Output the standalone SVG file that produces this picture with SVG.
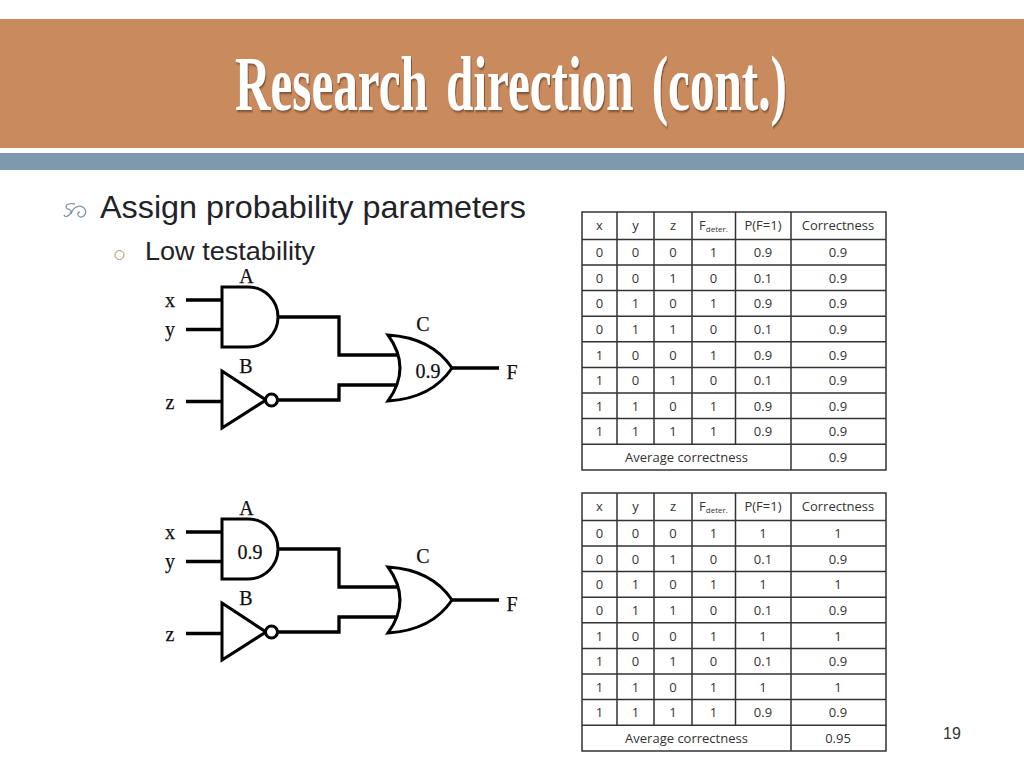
<svg xmlns="http://www.w3.org/2000/svg" xmlns:xlink="http://www.w3.org/1999/xlink" width="1024" height="768" viewBox="0 0 1024 768">
<style>
.g{fill:#fff;stroke:#000;stroke-width:3;stroke-linejoin:miter}
.w{fill:none;stroke:#000;stroke-width:3.300}
.l{font-family:"Liberation Serif",serif;font-size:20px;fill:#111;stroke:#111;stroke-width:.25;text-anchor:middle}
.c{font-family:"Open Sans",sans-serif;font-size:13px;fill:#333;text-anchor:middle}
.s{font-size:8px}
.b{font-family:"Liberation Sans",sans-serif;fill:#1f2328}
.r{fill:none;stroke:#333;stroke-width:1.500}
</style>
<defs>
<filter id="sh" x="-10%" y="-40%" width="120%" height="180%"><feDropShadow dx="1.500" dy="2" stdDeviation="1.200" flood-color="#5a3a20" flood-opacity="0.7"/></filter>
<path id="and" class="g" d="M222 287H248A30 30 0 0 1 248 347H222Z"/>
<path id="or" class="g" d="M388 335C420 337 440 350 452 368C440 386 420 399 388 401Q412 368 388 335Z"/>
<g id="not"><path class="g" d="M222 371V428L266 400Z"/><circle class="g" cx="271.500" cy="400" r="6"/></g>
<path id="grid" class="r" d="M582 212H886V470H582ZM582 239.500H886M582 265H886M582 290.600H886M582 316.200H886M582 341.800H886M582 367.400H886M582 393H886M582 418.600H886M582 444.200H886M617 212V444.200M654 212V444.200M692 212V444.200M735.500 212V444.200M791 212V470"/>
</defs>
<rect width="1024" height="768" fill="#fff"/>
<g id="header">
<rect x="0" y="19" width="1024" height="129" fill="#c98a5e"/>
<rect x="0" y="153" width="1024" height="17" fill="#7e98ad"/>
<text transform="translate(235 110) scale(.63 1)" x="0" y="0" word-spacing="9.500" filter="url(#sh)" font-family="Liberation Serif, serif" font-weight="bold" font-size="78" fill="#fff">Research direction (cont.)</text>
</g>
<g id="bullets">
<path d="M75 204C70 203 66 204 66 207C66 210 72 209 71 212C70 216 65 218 64 215M71 214C73 207 80 204 84 208C88 212 84 218 80 217C77 216 77 212 80 212" fill="none" stroke="#7e98ad" stroke-width="1.300"/>
<text class="b" x="100" y="218" font-size="32" textLength="426" lengthAdjust="spacingAndGlyphs">Assign probability parameters</text>
<circle cx="119.500" cy="255" r="4.500" fill="none" stroke="#c98a5e" stroke-width="1"/>
<text class="b" x="145" y="260" font-size="25.500" textLength="170" lengthAdjust="spacingAndGlyphs">Low testability</text>
</g>
<g id="connectors">
<path class="w" d="M186 300H222M186 329.500H222M278 317H339V355H400M186 401.500H222M278 400H339V385H398M452 368H499"/>
<path class="w" transform="translate(0 232)" d="M186 300H222M186 329.500H222M278 317H339V355H400M186 401.500H222M278 400H339V385H398M452 368H499"/>
</g>
<g id="circuit1-inputs"><text class="l" x="170" y="307">x</text><text class="l" x="170" y="336">y</text><text class="l" x="170" y="409">z</text></g>
<g id="circuit1-A"><use xlink:href="#and"/><text class="l" x="246.500" y="283">A</text></g>
<g id="circuit1-B"><use xlink:href="#not"/><text class="l" x="246" y="373">B</text></g>
<g id="circuit1-C"><use xlink:href="#or"/><text class="l" x="423" y="331">C</text><text class="l" x="428" y="378">0.9</text></g>
<g id="circuit1-F"><text class="l" x="512" y="379">F</text></g>
<g id="circuit2-inputs"><text class="l" x="170" y="539">x</text><text class="l" x="170" y="568">y</text><text class="l" x="170" y="641">z</text></g>
<g id="circuit2-A"><use xlink:href="#and" y="232"/><text class="l" x="246.500" y="515">A</text><text class="l" x="250" y="559">0.9</text></g>
<g id="circuit2-B"><use xlink:href="#not" y="232"/><text class="l" x="246" y="605">B</text></g>
<g id="circuit2-C"><use xlink:href="#or" y="232"/><text class="l" x="423" y="563">C</text></g>
<g id="circuit2-F"><text class="l" x="512" y="611">F</text></g>
<g id="table1">
<use xlink:href="#grid"/>
<text class="c" x="599.500" y="230">x</text><text class="c" x="635.500" y="230">y</text><text class="c" x="673" y="230">z</text><text class="c" x="713.500" y="230">F<tspan class="s" dy="2">deter.</tspan></text><text class="c" x="763" y="230">P(F=1)</text><text class="c" x="838" y="230">Correctness</text>
<text class="c" x="599.500" y="257">0</text><text class="c" x="635.500" y="257">0</text><text class="c" x="673" y="257">0</text><text class="c" x="713.500" y="257">1</text><text class="c" x="763" y="257">0.9</text><text class="c" x="838" y="257">0.9</text>
<text class="c" x="599.500" y="282.500">0</text><text class="c" x="635.500" y="282.500">0</text><text class="c" x="673" y="282.500">1</text><text class="c" x="713.500" y="282.500">0</text><text class="c" x="763" y="282.500">0.1</text><text class="c" x="838" y="282.500">0.9</text>
<text class="c" x="599.500" y="308">0</text><text class="c" x="635.500" y="308">1</text><text class="c" x="673" y="308">0</text><text class="c" x="713.500" y="308">1</text><text class="c" x="763" y="308">0.9</text><text class="c" x="838" y="308">0.9</text>
<text class="c" x="599.500" y="333.500">0</text><text class="c" x="635.500" y="333.500">1</text><text class="c" x="673" y="333.500">1</text><text class="c" x="713.500" y="333.500">0</text><text class="c" x="763" y="333.500">0.1</text><text class="c" x="838" y="333.500">0.9</text>
<text class="c" x="599.500" y="359.500">1</text><text class="c" x="635.500" y="359.500">0</text><text class="c" x="673" y="359.500">0</text><text class="c" x="713.500" y="359.500">1</text><text class="c" x="763" y="359.500">0.9</text><text class="c" x="838" y="359.500">0.9</text>
<text class="c" x="599.500" y="385">1</text><text class="c" x="635.500" y="385">0</text><text class="c" x="673" y="385">1</text><text class="c" x="713.500" y="385">0</text><text class="c" x="763" y="385">0.1</text><text class="c" x="838" y="385">0.9</text>
<text class="c" x="599.500" y="410.500">1</text><text class="c" x="635.500" y="410.500">1</text><text class="c" x="673" y="410.500">0</text><text class="c" x="713.500" y="410.500">1</text><text class="c" x="763" y="410.500">0.9</text><text class="c" x="838" y="410.500">0.9</text>
<text class="c" x="599.500" y="436">1</text><text class="c" x="635.500" y="436">1</text><text class="c" x="673" y="436">1</text><text class="c" x="713.500" y="436">1</text><text class="c" x="763" y="436">0.9</text><text class="c" x="838" y="436">0.9</text>
<text class="c" x="686.500" y="462">Average correctness</text><text class="c" x="838" y="462">0.9</text>
</g>
<g id="table2">
<use xlink:href="#grid" y="281"/>
<text class="c" x="599.500" y="511">x</text><text class="c" x="635.500" y="511">y</text><text class="c" x="673" y="511">z</text><text class="c" x="713.500" y="511">F<tspan class="s" dy="2">deter.</tspan></text><text class="c" x="763" y="511">P(F=1)</text><text class="c" x="838" y="511">Correctness</text>
<text class="c" x="599.500" y="538">0</text><text class="c" x="635.500" y="538">0</text><text class="c" x="673" y="538">0</text><text class="c" x="713.500" y="538">1</text><text class="c" x="763" y="538">1</text><text class="c" x="838" y="538">1</text>
<text class="c" x="599.500" y="563.500">0</text><text class="c" x="635.500" y="563.500">0</text><text class="c" x="673" y="563.500">1</text><text class="c" x="713.500" y="563.500">0</text><text class="c" x="763" y="563.500">0.1</text><text class="c" x="838" y="563.500">0.9</text>
<text class="c" x="599.500" y="589">0</text><text class="c" x="635.500" y="589">1</text><text class="c" x="673" y="589">0</text><text class="c" x="713.500" y="589">1</text><text class="c" x="763" y="589">1</text><text class="c" x="838" y="589">1</text>
<text class="c" x="599.500" y="614.500">0</text><text class="c" x="635.500" y="614.500">1</text><text class="c" x="673" y="614.500">1</text><text class="c" x="713.500" y="614.500">0</text><text class="c" x="763" y="614.500">0.1</text><text class="c" x="838" y="614.500">0.9</text>
<text class="c" x="599.500" y="640.500">1</text><text class="c" x="635.500" y="640.500">0</text><text class="c" x="673" y="640.500">0</text><text class="c" x="713.500" y="640.500">1</text><text class="c" x="763" y="640.500">1</text><text class="c" x="838" y="640.500">1</text>
<text class="c" x="599.500" y="666">1</text><text class="c" x="635.500" y="666">0</text><text class="c" x="673" y="666">1</text><text class="c" x="713.500" y="666">0</text><text class="c" x="763" y="666">0.1</text><text class="c" x="838" y="666">0.9</text>
<text class="c" x="599.500" y="691.500">1</text><text class="c" x="635.500" y="691.500">1</text><text class="c" x="673" y="691.500">0</text><text class="c" x="713.500" y="691.500">1</text><text class="c" x="763" y="691.500">1</text><text class="c" x="838" y="691.500">1</text>
<text class="c" x="599.500" y="717">1</text><text class="c" x="635.500" y="717">1</text><text class="c" x="673" y="717">1</text><text class="c" x="713.500" y="717">1</text><text class="c" x="763" y="717">0.9</text><text class="c" x="838" y="717">0.9</text>
<text class="c" x="686.500" y="743">Average correctness</text><text class="c" x="838" y="743">0.95</text>
</g>
<text id="page" x="952" y="739" text-anchor="middle" font-family="Liberation Sans, sans-serif" font-size="16" fill="#333">19</text>
</svg>
